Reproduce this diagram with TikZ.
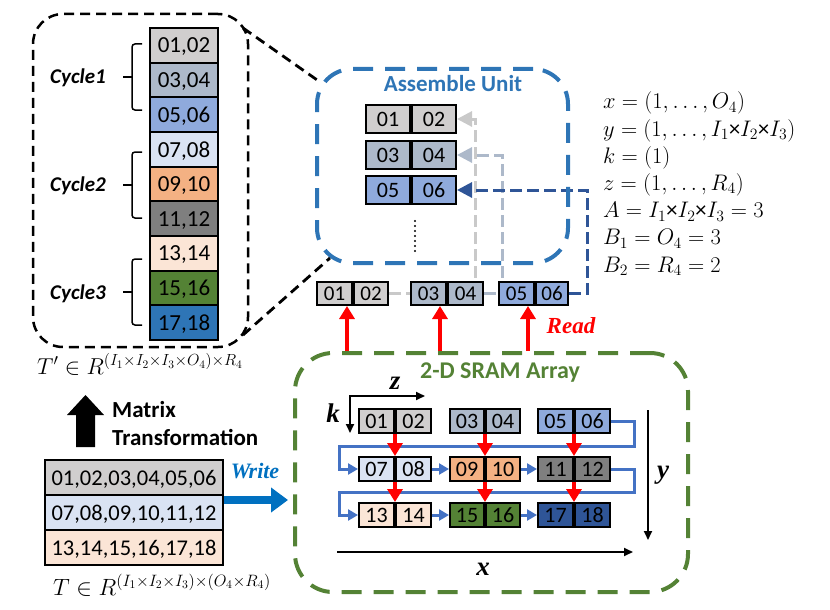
\RequirePackage{fix-cm}
\documentclass[tikz,border=0pt]{standalone}
\usepackage[no-math]{fontspec}
\setmainfont{Carlito}
\newfontfamily\tnr{Liberation Serif}
\usetikzlibrary{arrows.meta,calc,backgrounds}
\definecolor{c1}{HTML}{D0CECE}
\definecolor{c2}{HTML}{ADB9CA}
\definecolor{c3}{HTML}{8FAADC}
\definecolor{c4}{HTML}{DAE3F3}
\definecolor{c5}{HTML}{F4B183}
\definecolor{c6}{HTML}{7F7F7F}
\definecolor{c7}{HTML}{FBE5D6}
\definecolor{c8}{HTML}{548235}
\definecolor{c9}{HTML}{2E75B6}
\definecolor{c9d}{HTML}{2F5597}
\definecolor{aublue}{HTML}{2E75B6}
\definecolor{sgreen}{HTML}{548235}
\definecolor{snakeblue}{HTML}{4472C4}
\definecolor{wblue}{HTML}{0070C0}
\definecolor{lgray}{HTML}{C9C9C9}
\newcommand\tms{{\mbox{×}}}
\newcommand\cellpair[8]{%
  \node[cell, fill=#6, minimum width=#4pt, minimum height=#5pt, anchor=east] (#1l) at (#2,#3) {#7};
  \node[cell, fill=#6, minimum width=#4pt, minimum height=#5pt, anchor=west] (#1r) at (#2,#3) {#8};}
\begin{document}
\begin{tikzpicture}[x=1pt,y=-1pt,
  cell/.style={draw=black, line width=2pt, inner sep=0pt, text depth=0pt, font=\fontsize{22}{22}\selectfont},
  lcell/.style={cell, minimum width=68pt, minimum height=34.67pt, font=\fontsize{23}{23}\selectfont},
  tcell/.style={cell, minimum width=178pt, minimum height=35pt, font=\fontsize{22.5}{22.5}\selectfont},
  bcell/.style={cell, font=\fontsize{21}{21}\selectfont},
  brace/.style={line width=1.5pt, rounded corners=3pt},
  cyc/.style={anchor=base, inner sep=0pt, font=\fontsize{21}{21}\selectfont\bfseries\itshape},
  zoomline/.style={line width=2.8pt, dash pattern=on 10pt off 6pt},
  gline/.style={line width=3pt, dash pattern=on 12pt off 5pt, -{Triangle[length=15pt,width=15pt]}},
  redarr/.style={red, line width=4pt, -{Triangle[length=13pt,width=15pt]}},
  snk/.style={snakeblue, line width=3pt},
  snka/.style={snk, -{Triangle[length=10pt,width=11pt]}},
  ax/.style={line width=1.8pt, -{Triangle[length=9pt,width=8pt]}},
  axlab/.style={anchor=base, inner sep=0pt, font=\fontsize{27}{27}\selectfont\tnr\bfseries\itshape},
  frm/.style={anchor=base west, inner sep=0pt, align=left, font=\fontsize{22.5}{27.17}\selectfont},
  bold/.style={anchor=base west, inner sep=0pt, font=\fontsize{23}{23}\selectfont\bfseries}]
\useasboundingbox (0,0) rectangle (830,610);

% ---------- left dashed box with column ----------
\node[draw, zoomline, line width=2.5pt, rounded corners=30pt, minimum width=215pt, minimum height=333pt, inner sep=0pt] (lbox) at (140.5,180.5) {};
\node[lcell, fill=c1] (L1) at (184,45.3) {01,02};
\node[lcell, fill=c2] (L2) at (184,80) {03,04};
\node[lcell, fill=c3] (L3) at (184,114.7) {05,06};
\node[lcell, fill=c4] (L4) at (184,149.3) {07,08};
\node[lcell, fill=c5] (L5) at (184,184) {09,10};
\node[lcell, fill=c6] (L6) at (184,218.7) {11,12};
\node[lcell, fill=c7] (L7) at (184,253.3) {13,14};
\node[lcell, fill=c8] (L8) at (184,288) {15,16};
\node[lcell, fill=c9] (L9) at (184,322.7) {17,18};

\draw[brace] (142,44) -- (132,44) -- (132,110) -- (142,110);
\draw[brace] (132,77) -- (123,77);
\draw[brace] (142,152) -- (132,152) -- (132,218) -- (142,218);
\draw[brace] (132,185) -- (123,185);
\draw[brace] (142,259) -- (132,259) -- (132,325) -- (142,325);
\draw[brace] (132,292) -- (123,292);
\node[cyc] (cy1) at (78,84) {Cycle1};
\node[cyc] (cy2) at (78,191) {Cycle2};
\node[cyc] (cy3) at (78,299) {Cycle3};

% ---------- Assemble unit ----------
\node[draw=aublue, line width=4pt, dash pattern=on 20pt off 12pt, rounded corners=35pt, minimum width=251pt, minimum height=194pt, inner sep=0pt] (au) at (442.5,166) {};
\node[anchor=base, inner sep=0pt, text=aublue, font=\fontsize{23}{23}\selectfont\bfseries] (aut) at (453,92) {Assemble Unit};
\cellpair{a1}{411}{119}{44}{28}{c1}{01}{02}
\cellpair{a2}{411}{155}{44}{28}{c2}{03}{04}
\cellpair{a3}{411}{190}{44}{28}{c3}{05}{06}
\coordinate (d1) at (415,221);
\coordinate (d2) at (415,255);
\draw[line width=2.4pt, line cap=round, dash pattern=on 0pt off 5pt] (d1) -- (d2);

% zoom lines
\coordinate (zA) at (243,28);
\coordinate (zB) at (320,82);
\coordinate (zC) at (243,335);
\coordinate (zD) at (330,258);
\draw[zoomline] (zA) -- (zB);
\draw[zoomline] (zC) -- (zD);

% ---------- read buffer ----------
\node[bcell, fill=c1, minimum width=35pt, minimum height=23pt, anchor=east] (b1l) at (353,293.5) {01};
\node[bcell, fill=c1, minimum width=34pt, minimum height=23pt, anchor=west] (b1r) at (353,293.5) {02};
\node[bcell, fill=c2, minimum width=35pt, minimum height=23pt, anchor=east] (b2l) at (447,293.5) {03};
\node[bcell, fill=c2, minimum width=35pt, minimum height=23pt, anchor=west] (b2r) at (447,293.5) {04};
\node[bcell, fill=c3, minimum width=35pt, minimum height=23pt, anchor=east] (b3l) at (535,293.5) {05};
\node[bcell, fill=c3, minimum width=32pt, minimum height=23pt, anchor=west] (b3r) at (535,293.5) {06};

\begin{scope}[on background layer]
\draw[gline, draw=lgray] (b1r.east) -| (475,119) -- (a1r.east);
\draw[gline, draw=c2] (b2r.east) -| (502,155) -- (a2r.east);
\draw[gline, draw=c9d] (b3r.east) -| (587,190) -- (a3r.east);
\end{scope}

% ---------- formulas ----------
\node[frm] (frm) at (603,272) {$x=(1,\ldots,O_4)$\\
$y=(1,\ldots,I_1\tms I_2\tms I_3)$\\
$k=(1)$\\
$z=(1,\ldots,R_4)$\\
$A=I_1\tms I_2\tms I_3=3$\\
$B_1=O_4=3$\\
$B_2=R_4=2$};

% ---------- SRAM array ----------
\node[draw=sgreen, line width=4pt, dash pattern=on 20pt off 12pt, rounded corners=38pt, minimum width=393pt, minimum height=239pt, inner sep=0pt] (sram) at (491.5,472.5) {};
\node[anchor=base, inner sep=0pt, text=sgreen, font=\fontsize{24}{24}\selectfont\bfseries] (srt) at (500,378) {2-D SRAM Array};

\draw[redarr] (sram.north -| 347,0) -- (b1l.south -| 347,0);
\draw[redarr] (sram.north -| 440,0) -- (b2l.south -| 440,0);
\draw[redarr] (sram.north -| 528,0) -- (b3l.south -| 528,0);
\node[anchor=base, inner sep=0pt, text=red, font=\fontsize{23}{23}\selectfont\tnr\bfseries\itshape] (rd) at (571,333) {Read};

\cellpair{s1}{395}{421}{35}{24}{c1}{01}{02}
\cellpair{s2}{485}{421}{34}{24}{c2}{03}{04}
\cellpair{s3}{574}{421}{35}{24}{c3}{05}{06}
\cellpair{s4}{395}{469}{35}{24}{c4}{07}{08}
\cellpair{s5}{485}{469}{34}{24}{c5}{09}{10}
\cellpair{s6}{574}{469}{35}{24}{c6}{11}{12}
\cellpair{s7}{395}{515}{35}{24}{c7}{13}{14}
\cellpair{s8}{485}{515}{34}{24}{c8}{15}{16}
\cellpair{s9}{574}{515}{35}{24}{c9d}{17}{18}

% snake
\draw[snka] (s3r.east) -- ++(23,0) |- (339,446) |- (s4l.west);
\draw[snka] (s6r.east) -- ++(23,0) |- (339,492) |- (s7l.west);
\draw[snka] (s4r.east) -- (s5l.west);
\draw[snka] (s5r.east) -- (s6l.west);
\draw[snka] (s7r.east) -- (s8l.west);
\draw[snka] (s8r.east) -- (s9l.west);
% red down arrows
\draw[redarr] (s1l.south east) -- (s4l.north east);
\draw[redarr] (s2l.south east) -- (s5l.north east);
\draw[redarr] (s3l.south east) -- (s6l.north east);
\draw[redarr] (s4l.south east) -- (s7l.north east);
\draw[redarr] (s5l.south east) -- (s8l.north east);
\draw[redarr] (s6l.south east) -- (s9l.north east);

% axes
\coordinate (kz) at (350,396);
\coordinate (kk) at (350,433);
\coordinate (zz) at (425,396);
\draw[ax, {Triangle[length=9pt,width=8pt]}-{Triangle[length=9pt,width=8pt]}] (kk) -- (kz) -- (zz);
\node[axlab] (zl) at (395,389) {z};
\node[axlab] (kl) at (333,422) {k};
\coordinate (y1) at (648,410);
\coordinate (y2) at (648,540);
\draw[ax] (y1) -- (y2);
\node[axlab] (yl) at (663,478) {y};
\coordinate (x1) at (337,552);
\coordinate (x2) at (633,552);
\draw[ax] (x1) -- (x2);
\node[axlab] (xl) at (483,575) {x};

% ---------- bottom left ----------
\node[anchor=base west, inner sep=0pt, font=\fontsize{23}{23}\selectfont] (tp) at (37,374) {$T'\in R^{(I_1\times I_2\times I_3\times O_4)\times R_4}$};
\fill (76,447) -- (76,415) -- (67,415) -- (85.5,395) -- (104,415) -- (95,415) -- (95,447) -- cycle;
\node[bold] (mt1) at (112,417) {Matrix};
\node[bold] (mt2) at (112,445) {Transformation};

\node[tcell, fill=c1] (t1) at (134,477.5) {01,02,03,04,05,06};
\node[tcell, fill=c4] (t2) at (134,512.5) {07,08,09,10,11,12};
\node[tcell, fill=c7] (t3) at (134,547.5) {13,14,15,16,17,18};
\node[anchor=base west, inner sep=0pt, font=\fontsize{23.5}{23.5}\selectfont] (tt) at (53,595) {$T\in R^{(I_1\times I_2\times I_3)\times(O_4\times R_4)}$};

\draw[wblue, line width=8pt, -{Triangle[length=17pt,width=24pt]}] ($(t1.south east)+(0,4)$) -- ($(sram.west |- t1.south)+(-5,4)$);
\node[anchor=base, inner sep=0pt, text=wblue, font=\fontsize{22}{22}\selectfont\tnr\bfseries\itshape] (wr) at (255,478) {Write};
\end{tikzpicture}
\end{document}
